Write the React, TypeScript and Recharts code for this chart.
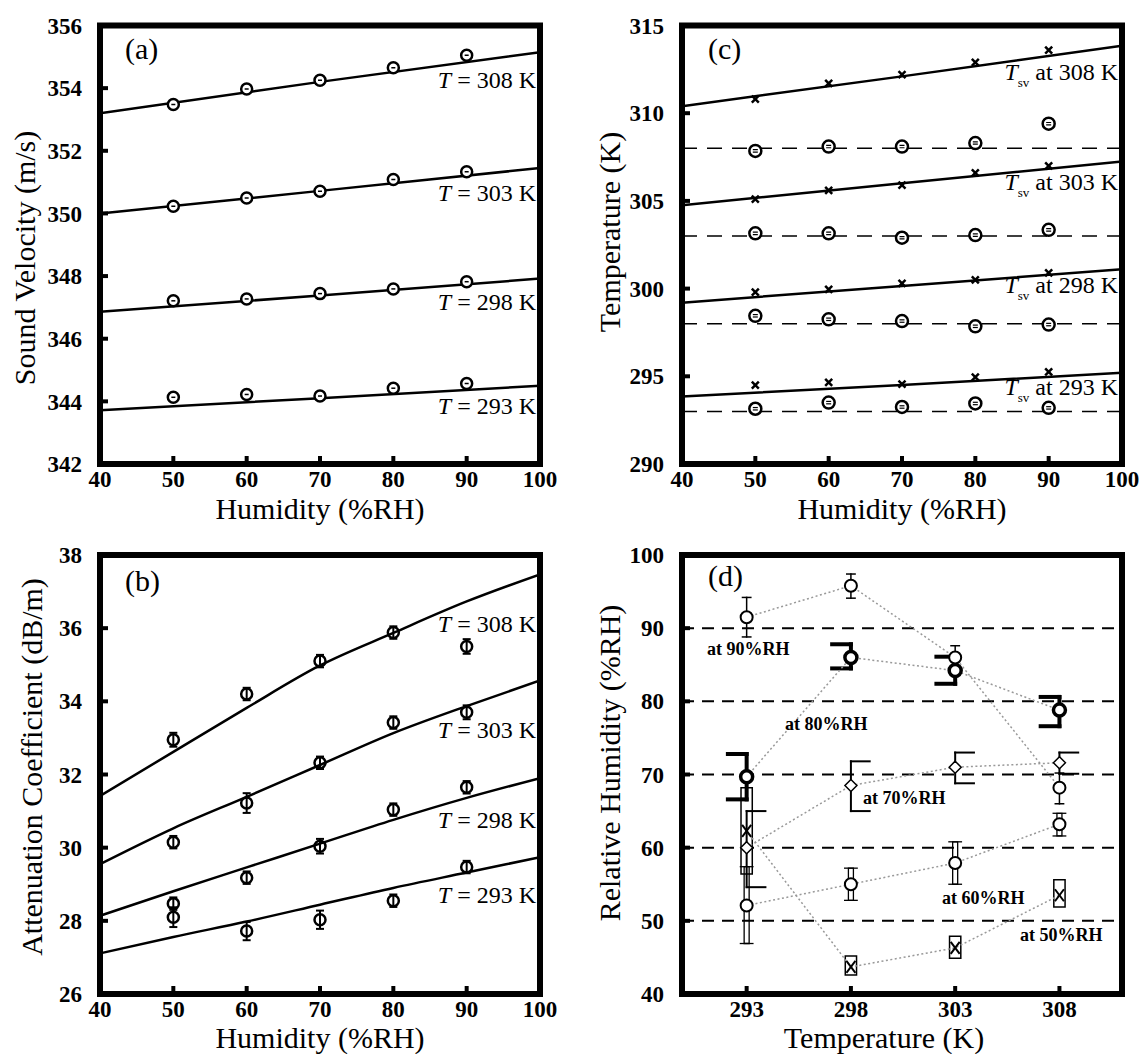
import React from 'react';
import {
  ComposedChart,
  Line,
  Scatter,
  XAxis,
  YAxis,
  ReferenceArea,
  ReferenceLine,
  ErrorBar,
} from 'recharts';

const FONT = '"Liberation Serif", "Times New Roman", Times, serif';

// ---------------- shared ----------------
const humidity = [50, 60, 70, 80, 90];
const humidityTicks = [40, 50, 60, 70, 80, 90, 100];
const fitHumidityStraight = [40, 70, 100];
const fitHumidityCurve = [40, 50, 60, 70, 80, 90, 100];

// ---------------- (a) sound velocity ----------------
const velocityTicks = [342, 344, 346, 348, 350, 352, 354, 356];
const velocity308 = [353.48, 353.97, 354.25, 354.65, 355.05];
const velocity303 = [350.23, 350.49, 350.71, 351.08, 351.33];
const velocity298 = [347.21, 347.27, 347.44, 347.59, 347.82];
const velocity293 = [344.13, 344.22, 344.17, 344.42, 344.57];
const velocityFit308 = [353.2, 354.2, 355.15];
const velocityFit303 = [350.0, 350.72, 351.45];
const velocityFit298 = [346.86, 347.38, 347.92];
const velocityFit293 = [343.72, 344.1, 344.5];

// ---------------- (b) attenuation ----------------
const attenuationTicks = [26, 28, 30, 32, 34, 36, 38];
const attenuation308 = [32.95, 34.2, 35.1, 35.88, 35.5];
const attenuation303 = [30.15, 31.22, 32.32, 33.42, 33.7];
const attenuation298 = [28.47, 29.18, 30.04, 31.04, 31.65];
const attenuation293 = [28.1, 27.72, 28.03, 28.55, 29.47];
const attenuationErr308 = [0.19, 0.17, 0.17, 0.17, 0.2];
const attenuationErr303 = [0.17, 0.27, 0.17, 0.17, 0.19];
const attenuationErr298 = [0.17, 0.17, 0.2, 0.17, 0.17];
const attenuationErr293 = [0.27, 0.25, 0.25, 0.17, 0.17];
const attenuationFit308 = [31.41, 32.62, 33.82, 34.98, 35.87, 36.73, 37.47];
const attenuationFit303 = [29.55, 30.53, 31.39, 32.26, 33.13, 33.87, 34.57];
const attenuationFit298 = [28.14, 28.81, 29.46, 30.11, 30.76, 31.36, 31.9];
const attenuationFit293 = [27.11, 27.56, 27.98, 28.44, 28.9, 29.32, 29.74];

// ---------------- (c) temperature ----------------
const temperatureTicks = [290, 295, 300, 305, 310, 315];
const setTemperatures = [308, 303, 298, 293];
const tsv308 = [310.8, 311.7, 312.2, 312.9, 313.6];
const tsv303 = [305.1, 305.6, 305.9, 306.6, 307.0];
const tsv298 = [299.8, 299.95, 300.3, 300.5, 300.9];
const tsv293 = [294.5, 294.65, 294.55, 294.95, 295.25];
const tsvFit308 = [310.4, 312.1, 313.85];
const tsvFit303 = [304.75, 306.0, 307.25];
const tsvFit298 = [299.2, 300.15, 301.1];
const tsvFit293 = [293.85, 294.5, 295.2];
const measured308 = [307.85, 308.1, 308.1, 308.3, 309.4];
const measured303 = [303.15, 303.15, 302.9, 303.05, 303.35];
const measured298 = [298.45, 298.25, 298.15, 297.85, 297.95];
const measured293 = [293.15, 293.5, 293.25, 293.45, 293.2];

// ---------------- (d) relative humidity ----------------
const temperatures = [293, 298, 303, 308];
const rhTicks = [40, 50, 60, 70, 80, 90, 100];
const rhSetLevels = [50, 60, 70, 80, 90];
const rh90 = [91.5, 95.8, 86.0, 68.2];
const rh90Low = [88.8, 94.1, 84.4, 66.0];
const rh90High = [94.2, 97.4, 87.6, 70.2];
const rh80 = [69.7, 86.0, 84.2, 78.8];
const rh80Low = [66.6, 84.5, 82.4, 76.6];
const rh80High = [72.8, 87.8, 86.1, 80.6];
const rh70 = [60.0, 68.5, 71.0, 71.6];
const rh70Low = [54.6, 65.0, 68.8, 70.1];
const rh70High = [65.0, 71.8, 73.0, 73.0];
const rh60 = [52.1, 55.0, 57.9, 63.2];
const rh60Low = [46.9, 52.8, 55.0, 61.6];
const rh60High = [57.4, 57.2, 60.8, 64.7];
const rh50 = [62.3, 43.7, 46.3, 53.5];
const rh50Low = [56.4, 42.6, 44.9, 51.9];
const rh50High = [68.2, 45.2, 47.9, 55.6];

// ---------------- helpers ----------------
const xy = (xs: number[], ys: number[]) => xs.map((x, i) => ({ x, y: ys[i] }));
const xye = (xs: number[], ys: number[], es: number[]) =>
  xs.map((x, i) => ({ x, y: ys[i], err: es[i] }));

const tickStyle = { fill: '#000', fontSize: 23, fontWeight: 700, fontFamily: FONT };
const tickLineStyle = { stroke: '#000', strokeWidth: 4 };

type PanelProps = {
  left: number;
  top: number;
  width: number;
  height: number;
  plotLeft: number;
  plotTop: number;
  plotRight: number;
  plotBottom: number;
  xDomain: [number, number];
  xTicks: number[];
  yDomain: [number, number];
  yTicks: number[];
  children: React.ReactNode;
};

function Panel(p: PanelProps) {
  return (
    <div style={{ position: 'absolute', left: p.left, top: p.top }}>
      <ComposedChart
        width={p.width}
        height={p.height}
        margin={{ top: p.plotTop - 1, right: p.width - p.plotRight - 1, left: 0, bottom: 0 }}
      >
        <XAxis
          dataKey="x"
          type="number"
          domain={p.xDomain}
          ticks={p.xTicks}
          interval={0}
          allowDataOverflow
          height={p.height - p.plotBottom}
          axisLine={false}
          tickLine={tickLineStyle}
          tickSize={-8}
          tickMargin={15}
          tick={tickStyle}
        />
        <XAxis
          xAxisId="top"
          orientation="top"
          type="number"
          domain={p.xDomain}
          ticks={p.xTicks}
          interval={0}
          allowDataOverflow
          height={1}
          axisLine={false}
          tickLine={tickLineStyle}
          tickSize={-8}
          tick={false}
        />
        <YAxis
          dataKey="y"
          type="number"
          domain={p.yDomain}
          ticks={p.yTicks}
          interval={0}
          allowDataOverflow
          width={p.plotLeft}
          axisLine={false}
          tickLine={tickLineStyle}
          tickSize={-8}
          tickMargin={26}
          tick={tickStyle}
        />
        <YAxis
          yAxisId="right"
          orientation="right"
          type="number"
          domain={p.yDomain}
          ticks={p.yTicks}
          interval={0}
          allowDataOverflow
          width={1}
          axisLine={false}
          tickLine={tickLineStyle}
          tickSize={-8}
          tick={false}
        />
        {p.children}
        <ReferenceArea
          x1={p.xDomain[0]}
          x2={p.xDomain[1]}
          y1={p.yDomain[0]}
          y2={p.yDomain[1]}
          fill="none"
          fillOpacity={0}
          stroke="#000"
          strokeWidth={6}
          ifOverflow="visible"
        />
      </ComposedChart>
    </div>
  );
}

// ---------------- markers ----------------
const RingDash = (p: any) => (
  <g>
    <circle cx={p.cx} cy={p.cy} r={5.5} fill="#fff" stroke="#000" strokeWidth={2.5} />
    <line x1={p.cx - 2} x2={p.cx + 2} y1={p.cy} y2={p.cy} stroke="#000" strokeWidth={1.5} />
  </g>
);
const Ring = (p: any) => (
  <circle cx={p.cx} cy={p.cy} r={5.5} fill="none" stroke="#000" strokeWidth={2.5} />
);
const SmallCross = (p: any) => (
  <g stroke="#000" strokeWidth={2.5}>
    <line x1={p.cx - 3.5} y1={p.cy - 3.5} x2={p.cx + 3.5} y2={p.cy + 3.5} />
    <line x1={p.cx - 3.5} y1={p.cy + 3.5} x2={p.cx + 3.5} y2={p.cy - 3.5} />
  </g>
);
const RingMeasured = (p: any) => (
  <g>
    <circle cx={p.cx} cy={p.cy} r={6} fill="#fff" stroke="#000" strokeWidth={2.5} />
    <line x1={p.cx - 2.5} x2={p.cx + 2.5} y1={p.cy - 1.2} y2={p.cy - 1.2} stroke="#000" strokeWidth={1.2} />
    <line x1={p.cx - 2.5} x2={p.cx + 2.5} y1={p.cy + 1.2} y2={p.cy + 1.2} stroke="#000" strokeWidth={1.2} />
  </g>
);
const OpenCircle = (p: any) => (
  <circle cx={p.cx} cy={p.cy} r={6} fill="#fff" stroke="#000" strokeWidth={2} />
);
const BoldCircle = (p: any) => (
  <circle cx={p.cx} cy={p.cy} r={6} fill="#fff" stroke="#000" strokeWidth={3.5} />
);
const Diamond = (p: any) => (
  <path
    d={`M${p.cx},${p.cy - 6} L${p.cx + 6},${p.cy} L${p.cx},${p.cy + 6} L${p.cx - 6},${p.cy} Z`}
    fill="#fff"
    stroke="#000"
    strokeWidth={1.5}
  />
);
const BoxCross = (p: any) => (
  <g stroke="#000" strokeWidth={2}>
    <line x1={p.cx - 4.5} y1={p.cy - 6} x2={p.cx + 4.5} y2={p.cy + 6} />
    <line x1={p.cx - 4.5} y1={p.cy + 6} x2={p.cx + 4.5} y2={p.cy - 6} />
  </g>
);

const seg = (key: string, x1: number, y1: number, x2: number, y2: number, sw: number) => (
  <ReferenceLine
    key={key}
    segment={[
      { x: x1, y: y1 },
      { x: x2, y: y2 },
    ]}
    stroke="#000"
    strokeWidth={sw}
    strokeLinecap="square"
    ifOverflow="visible"
  />
);

const dotted = { stroke: '#999', strokeWidth: 1.5, strokeDasharray: '2 2.5' };

// ---------------- panels ----------------
function PanelA() {
  const fits = [velocityFit308, velocityFit303, velocityFit298, velocityFit293];
  const pts = [velocity308, velocity303, velocity298, velocity293];
  return (
    <Panel
      left={0}
      top={0}
      width={560}
      height={520}
      plotLeft={100}
      plotTop={25.5}
      plotRight={540}
      plotBottom={464}
      xDomain={[40, 100]}
      xTicks={humidityTicks}
      yDomain={[342, 356]}
      yTicks={velocityTicks}
    >
      {fits.map((f, i) => (
        <Line
          key={'fa' + i}
          data={xy(fitHumidityStraight, f)}
          dataKey="y"
          type="linear"
          stroke="#000"
          strokeWidth={2.5}
          dot={false}
          activeDot={false}
          isAnimationActive={false}
        />
      ))}
      {pts.map((v, i) => (
        <Scatter key={'sa' + i} data={xy(humidity, v)} shape={RingDash} isAnimationActive={false} />
      ))}
    </Panel>
  );
}

function PanelB() {
  const fits = [attenuationFit308, attenuationFit303, attenuationFit298, attenuationFit293];
  const pts = [attenuation308, attenuation303, attenuation298, attenuation293];
  const errs = [attenuationErr308, attenuationErr303, attenuationErr298, attenuationErr293];
  return (
    <Panel
      left={0}
      top={520}
      width={560}
      height={534}
      plotLeft={100}
      plotTop={35}
      plotRight={540}
      plotBottom={474}
      xDomain={[40, 100]}
      xTicks={humidityTicks}
      yDomain={[26, 38]}
      yTicks={attenuationTicks}
    >
      {fits.map((f, i) => (
        <Line
          key={'fb' + i}
          data={xy(fitHumidityCurve, f)}
          dataKey="y"
          type="monotone"
          stroke="#000"
          strokeWidth={2.5}
          dot={false}
          activeDot={false}
          isAnimationActive={false}
        />
      ))}
      {pts.map((v, i) => (
        <Scatter key={'sb' + i} data={xye(humidity, v, errs[i])} shape={Ring} isAnimationActive={false}>
          <ErrorBar dataKey="err" direction="y" width={4} stroke="#000" strokeWidth={2} />
        </Scatter>
      ))}
    </Panel>
  );
}

function PanelC() {
  const fits = [tsvFit308, tsvFit303, tsvFit298, tsvFit293];
  const crosses = [tsv308, tsv303, tsv298, tsv293];
  const measured = [measured308, measured303, measured298, measured293];
  return (
    <Panel
      left={560}
      top={0}
      width={585}
      height={520}
      plotLeft={122}
      plotTop={25.5}
      plotRight={562}
      plotBottom={464}
      xDomain={[40, 100]}
      xTicks={humidityTicks}
      yDomain={[290, 315]}
      yTicks={temperatureTicks}
    >
      {setTemperatures.map((t) => (
        <ReferenceLine
          key={'dl' + t}
          y={t}
          stroke="#000"
          strokeWidth={1.5}
          strokeDasharray="15 10"
        />
      ))}
      {fits.map((f, i) => (
        <Line
          key={'fc' + i}
          data={xy(fitHumidityStraight, f)}
          dataKey="y"
          type="linear"
          stroke="#000"
          strokeWidth={2.5}
          dot={false}
          activeDot={false}
          isAnimationActive={false}
        />
      ))}
      {crosses.map((v, i) => (
        <Scatter key={'xc' + i} data={xy(humidity, v)} shape={SmallCross} isAnimationActive={false} />
      ))}
      {measured.map((v, i) => (
        <Scatter key={'mc' + i} data={xy(humidity, v)} shape={RingMeasured} isAnimationActive={false} />
      ))}
    </Panel>
  );
}

function PanelD() {
  const refs: React.ReactNode[] = [];
  temperatures.forEach((t, i) => {
    // 50 %RH boxes
    refs.push(
      <ReferenceArea
        key={'b50' + i}
        x1={t - 0.27}
        x2={t + 0.27}
        y1={rh50Low[i]}
        y2={rh50High[i]}
        fill="none"
        fillOpacity={0}
        stroke="#000"
        strokeWidth={1.5}
        ifOverflow="visible"
      />
    );
    // 60 %RH narrow double-line bars
    refs.push(
      <ReferenceArea
        key={'b60' + i}
        x1={t - 0.12}
        x2={t + 0.12}
        y1={rh60Low[i]}
        y2={rh60High[i]}
        fill="none"
        fillOpacity={0}
        stroke="#000"
        strokeWidth={1.3}
        ifOverflow="visible"
      />
    );
    refs.push(seg('c60t' + i, t - 0.3, rh60High[i], t + 0.3, rh60High[i], 1.3));
    refs.push(seg('c60b' + i, t - 0.3, rh60Low[i], t + 0.3, rh60Low[i], 1.3));
    // 70 %RH thin brackets opening right
    refs.push(seg('v70' + i, t, rh70Low[i], t, rh70High[i], 2));
    refs.push(seg('t70' + i, t, rh70High[i], t + 0.9, rh70High[i], 2));
    refs.push(seg('l70' + i, t, rh70Low[i], t + 0.9, rh70Low[i], 2));
    // 80 %RH thick brackets opening left
    refs.push(seg('v80' + i, t, rh80Low[i], t, rh80High[i], 4));
    refs.push(seg('t80' + i, t - 0.9, rh80High[i], t, rh80High[i], 4));
    refs.push(seg('l80' + i, t - 0.9, rh80Low[i], t, rh80Low[i], 4));
    // 90 %RH thin error bars
    refs.push(seg('v90' + i, t, rh90Low[i], t, rh90High[i], 1.5));
    refs.push(seg('t90' + i, t - 0.2, rh90High[i], t + 0.2, rh90High[i], 1.5));
    refs.push(seg('l90' + i, t - 0.2, rh90Low[i], t + 0.2, rh90Low[i], 1.5));
  });
  return (
    <Panel
      left={560}
      top={520}
      width={585}
      height={534}
      plotLeft={122}
      plotTop={35}
      plotRight={562}
      plotBottom={474}
      xDomain={[289.9, 311]}
      xTicks={temperatures}
      yDomain={[40, 100]}
      yTicks={rhTicks}
    >
      {rhSetLevels.map((v) => (
        <ReferenceLine key={'rl' + v} y={v} stroke="#000" strokeWidth={2} strokeDasharray="12 8" />
      ))}
      {refs}
      <Scatter data={xy(temperatures, rh50)} line={dotted} shape={BoxCross} isAnimationActive={false} />
      <Scatter data={xy(temperatures, rh60)} line={dotted} shape={OpenCircle} isAnimationActive={false} />
      <Scatter data={xy(temperatures, rh70)} line={dotted} shape={Diamond} isAnimationActive={false} />
      <Scatter data={xy(temperatures, rh80)} line={dotted} shape={BoldCircle} isAnimationActive={false} />
      <Scatter data={xy(temperatures, rh90)} line={dotted} shape={OpenCircle} isAnimationActive={false} />
    </Panel>
  );
}

// ---------------- text overlay ----------------
function TLabel({ x, y, t }: { x: number; y: number; t: number }) {
  return (
    <text x={x} y={y} fontSize={24} textAnchor="end">
      <tspan fontStyle="italic">T</tspan>
      {` = ${t} K`}
    </text>
  );
}
function TsvLabel({ x, y, t }: { x: number; y: number; t: number }) {
  return (
    <text x={x} y={y} fontSize={24} textAnchor="end">
      <tspan fontStyle="italic">T</tspan>
      <tspan fontSize={13} dy={7}>
        sv
      </tspan>
      <tspan dy={-7}>{` at ${t} K`}</tspan>
    </text>
  );
}

function Overlay() {
  return (
    <svg
      width={1145}
      height={1054}
      style={{ position: 'absolute', left: 0, top: 0, pointerEvents: 'none' }}
      fontFamily={FONT}
      fill="#000"
    >
      {/* axis titles */}
      <text x={320} y={519} fontSize={30} textAnchor="middle">Humidity (%RH)</text>
      <text x={902} y={519} fontSize={30} textAnchor="middle">Humidity (%RH)</text>
      <text x={320} y={1048} fontSize={30} textAnchor="middle">Humidity (%RH)</text>
      <text x={884} y={1048} fontSize={30} textAnchor="middle">Temperature (K)</text>
      <text transform="translate(35,258) rotate(-90)" fontSize={30} textAnchor="middle">
        Sound Velocity (m/s)
      </text>
      <text transform="translate(42,767) rotate(-90)" fontSize={30} textAnchor="middle">
        Attenuation Coefficient (dB/m)
      </text>
      <text transform="translate(620,232) rotate(-90)" fontSize={30} textAnchor="middle">
        Temperature (K)
      </text>
      <text transform="translate(620,763) rotate(-90)" fontSize={30} textAnchor="middle">
        Relative Humidity (%RH)
      </text>
      {/* panel letters */}
      <text x={125} y={59} fontSize={30}>(a)</text>
      <text x={125} y={591} fontSize={30}>(b)</text>
      <text x={708} y={59} fontSize={30}>(c)</text>
      <text x={708} y={586} fontSize={30}>(d)</text>
      {/* (a) */}
      <TLabel x={536} y={88} t={308} />
      <TLabel x={536} y={201} t={303} />
      <TLabel x={536} y={310} t={298} />
      <TLabel x={536} y={414} t={293} />
      {/* (b) */}
      <TLabel x={536} y={632} t={308} />
      <TLabel x={536} y={738} t={303} />
      <TLabel x={536} y={828} t={298} />
      <TLabel x={536} y={903} t={293} />
      {/* (c) */}
      <TsvLabel x={1118} y={80} t={308} />
      <TsvLabel x={1118} y={190} t={303} />
      <TsvLabel x={1118} y={293} t={298} />
      <TsvLabel x={1118} y={395} t={293} />
      {/* (d) */}
      <text x={707} y={655} fontSize={18} fontWeight={700}>at 90%RH</text>
      <text x={785} y={730} fontSize={18} fontWeight={700}>at 80%RH</text>
      <text x={863} y={804} fontSize={18} fontWeight={700}>at 70%RH</text>
      <text x={942} y={904} fontSize={18} fontWeight={700}>at 60%RH</text>
      <text x={1020} y={941} fontSize={18} fontWeight={700}>at 50%RH</text>
    </svg>
  );
}

export default function App() {
  return (
    <div
      style={{
        position: 'absolute',
        left: 0,
        top: 0,
        width: 1145,
        height: 1054,
        background: '#fff',
        fontFamily: FONT,
      }}
    >
      <PanelA />
      <PanelB />
      <PanelC />
      <PanelD />
      <Overlay />
    </div>
  );
}
